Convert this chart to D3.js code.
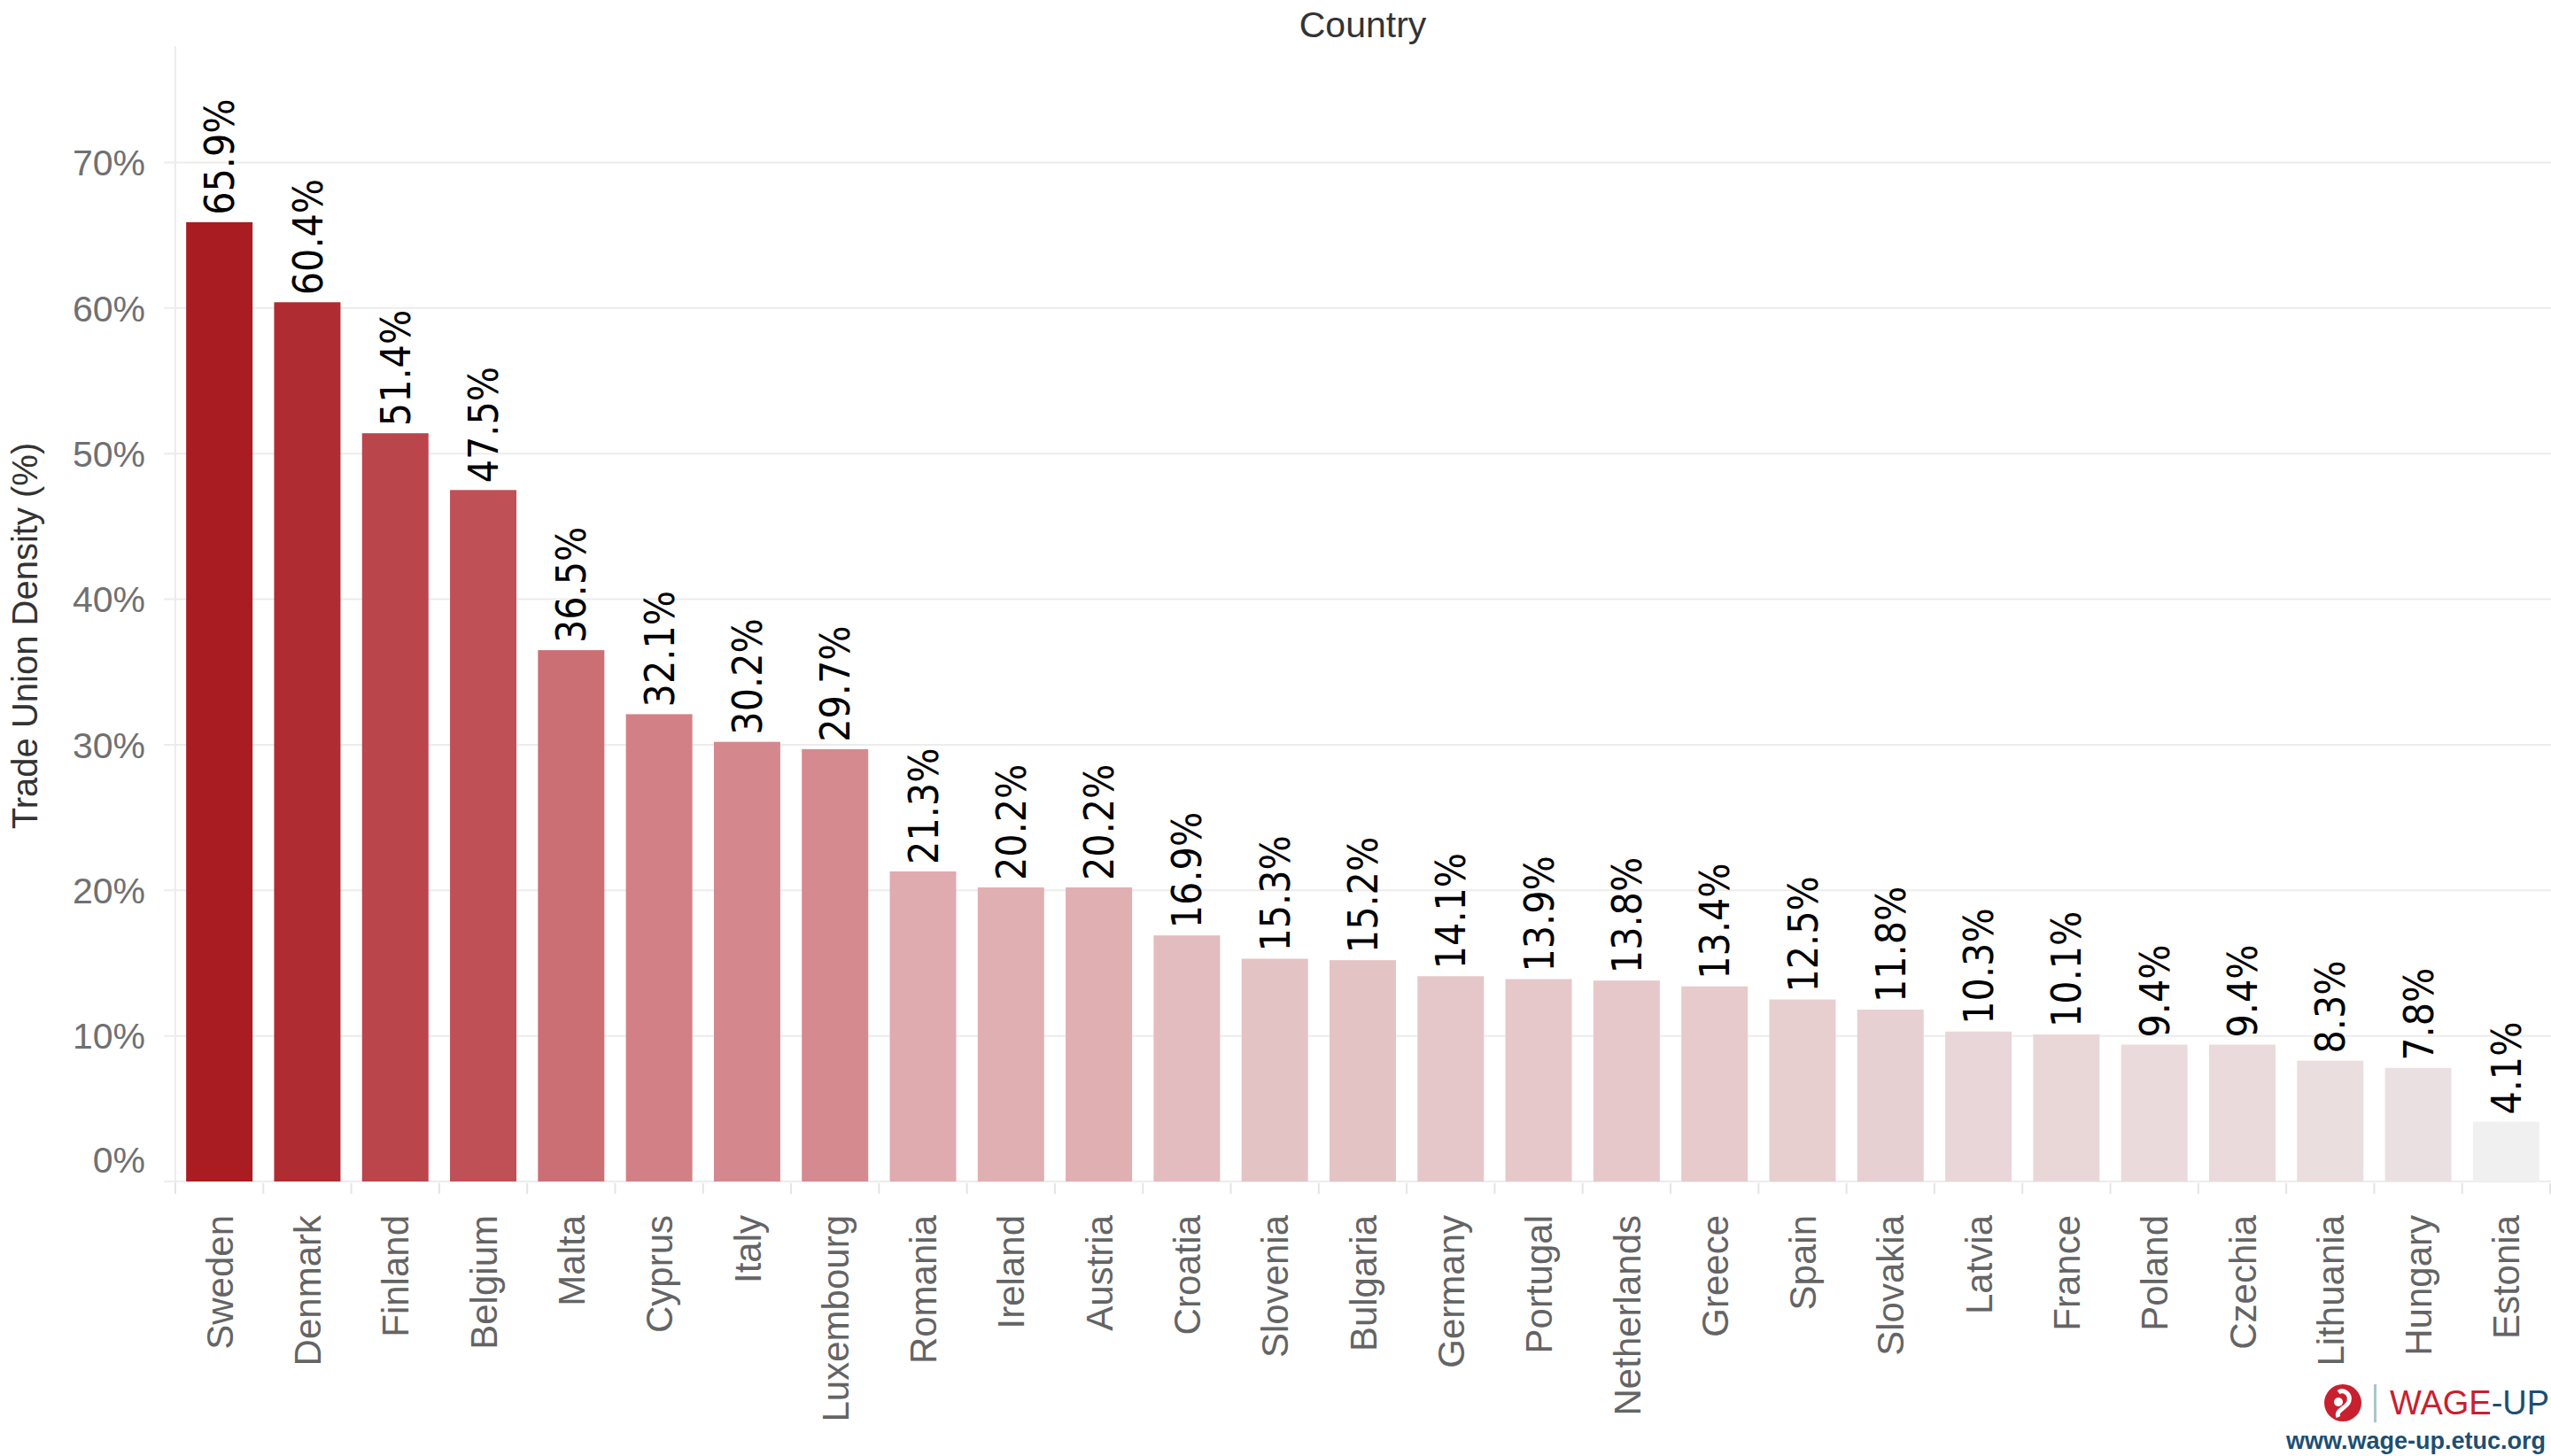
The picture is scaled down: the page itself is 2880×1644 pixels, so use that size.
<!DOCTYPE html>
<html>
<head>
<meta charset="utf-8">
<script src="https://cdn.jsdelivr.net/npm/d3@7"></script>
<style>
  html, body { margin: 0; padding: 0; background: #fff; }
  svg { display: block; }
</style>
</head>
<body>
<svg id="chart" width="2880" height="1644"></svg>
<script>
// ---- data ----
const countries = ["Sweden","Denmark","Finland","Belgium","Malta","Cyprus","Italy","Luxembourg","Romania","Ireland","Austria","Croatia","Slovenia","Bulgaria","Germany","Portugal","Netherlands","Greece","Spain","Slovakia","Latvia","France","Poland","Czechia","Lithuania","Hungary","Estonia"];
const density = [65.9,60.4,51.4,47.5,36.5,32.1,30.2,29.7,21.3,20.2,20.2,16.9,15.3,15.2,14.1,13.9,13.8,13.4,12.5,11.8,10.3,10.1,9.4,9.4,8.3,7.8,4.1];
const yTicks = [0,10,20,30,40,50,60,70];
const colorStops = [4.1, 7.8, 21.3, 36.5, 65.9];
const colorRange = ["#f0f0f0","#ebe0e1","#dfabae","#cc6f75","#a81c22"];

const FONT_NARROW = "'Liberation Sans Narrow','Arial Narrow','DejaVu Sans Condensed',sans-serif";
const FONT = "'Liberation Sans','Arial',sans-serif";

const svg = d3.select("#chart");
const m = { left: 198, right: 2879, top: 52, bottom: 1334 };

const x = d3.scaleBand().domain(countries).range([m.left, m.right]).paddingInner(0.245).paddingOuter(0.1225);
const y = d3.scaleLinear().domain([0, 78]).range([m.bottom, m.top]);
const color = d3.scaleLinear().domain(colorStops).range(colorRange);

// gridlines
svg.append("g").selectAll("line").data(yTicks).join("line")
  .attr("x1", 185).attr("x2", 2880)
  .attr("y1", d => y(d)).attr("y2", d => y(d))
  .attr("stroke", "#ececec").attr("stroke-width", 2);

// left vertical axis line
svg.append("line").attr("x1", m.left).attr("x2", m.left)
  .attr("y1", m.top).attr("y2", 1348)
  .attr("stroke", "#ececec").attr("stroke-width", 2);

// x ticks at band boundaries
const step = x.step();
const boundaries = countries.map((c, i) => m.left + i * step);
boundaries.push(m.right);
svg.append("g").selectAll("line").data(boundaries).join("line")
  .attr("x1", d => d).attr("x2", d => d)
  .attr("y1", m.bottom + 2).attr("y2", 1348)
  .attr("stroke", "#e4e4e4").attr("stroke-width", 2);

// bars
svg.append("g").selectAll("rect").data(countries).join("rect")
  .attr("x", d => x(d))
  .attr("width", x.bandwidth())
  .attr("y", (d, i) => y(density[i]))
  .attr("height", (d, i) => y(0) - y(density[i]))
  .attr("fill", (d, i) => color(density[i]));

// value labels
svg.append("g").selectAll("text").data(countries).join("text")
  .attr("transform", (d, i) => `translate(${x(d) + x.bandwidth() / 2},${y(density[i]) - 8}) rotate(-90)`)
  .attr("dy", "0.36em")
  .attr("text-anchor", "start")
  .attr("font-family", FONT_NARROW)
  .attr("font-size", 46)
  .attr("fill", "#000")
  .text((d, i) => d3.format(".1f")(density[i]) + "%");

// y tick labels
svg.append("g").selectAll("text").data(yTicks).join("text")
  .attr("x", 164)
  .attr("y", d => d === 0 ? y(d) - 10 : y(d))
  .attr("dy", d => d === 0 ? "0" : "0.36em")
  .attr("text-anchor", "end")
  .attr("font-family", FONT)
  .attr("font-size", 41)
  .attr("fill", "#707070")
  .text(d => d + "%");

// x labels
svg.append("g").selectAll("text").data(countries).join("text")
  .attr("transform", d => `translate(${x(d) + x.bandwidth() / 2},1372) rotate(-90)`)
  .attr("dy", "0.36em")
  .attr("text-anchor", "end")
  .attr("font-family", FONT)
  .attr("font-size", 42)
  .attr("fill", "#646464")
  .text(d => d);

// titles
svg.append("text")
  .attr("x", (m.left + m.right) / 2).attr("y", 42)
  .attr("text-anchor", "middle")
  .attr("font-family", FONT).attr("font-size", 41).attr("fill", "#333")
  .text("Country");

svg.append("text")
  .attr("transform", "translate(28,718) rotate(-90)")
  .attr("dy", "0.36em")
  .attr("text-anchor", "middle")
  .attr("font-family", FONT).attr("font-size", 40).attr("fill", "#333")
  .text("Trade Union Density (%)");

// logo
const logo = svg.append("g");
logo.append("circle").attr("cx", 2645).attr("cy", 1584).attr("r", 21).attr("fill", "#c8202f");
logo.append("path")
  .attr("d", "M2640,1600 C2636,1592 2650,1590 2652,1582 C2654,1574 2646,1568 2640,1572")
  .attr("fill", "none").attr("stroke", "#fff").attr("stroke-width", 5);
logo.append("circle").attr("cx", 2640).attr("cy", 1583).attr("r", 5).attr("fill", "#fff");
logo.append("rect").attr("x", 2680).attr("y", 1563).attr("width", 3).attr("height", 43).attr("fill", "#a9c4cc");
const wt = logo.append("text").attr("x", 2698).attr("y", 1597)
  .attr("font-family", FONT).attr("font-size", 38);
wt.append("tspan").attr("fill", "#c8202f").text("WAGE");
wt.append("tspan").attr("fill", "#1d4f73").text("-UP");
logo.append("text").attr("x", 2874).attr("y", 1636).attr("text-anchor", "end")
  .attr("font-family", FONT).attr("font-size", 27).attr("font-weight", "bold").attr("fill", "#1d4f73")
  .text("www.wage-up.etuc.org");
</script>
</body>
</html>
